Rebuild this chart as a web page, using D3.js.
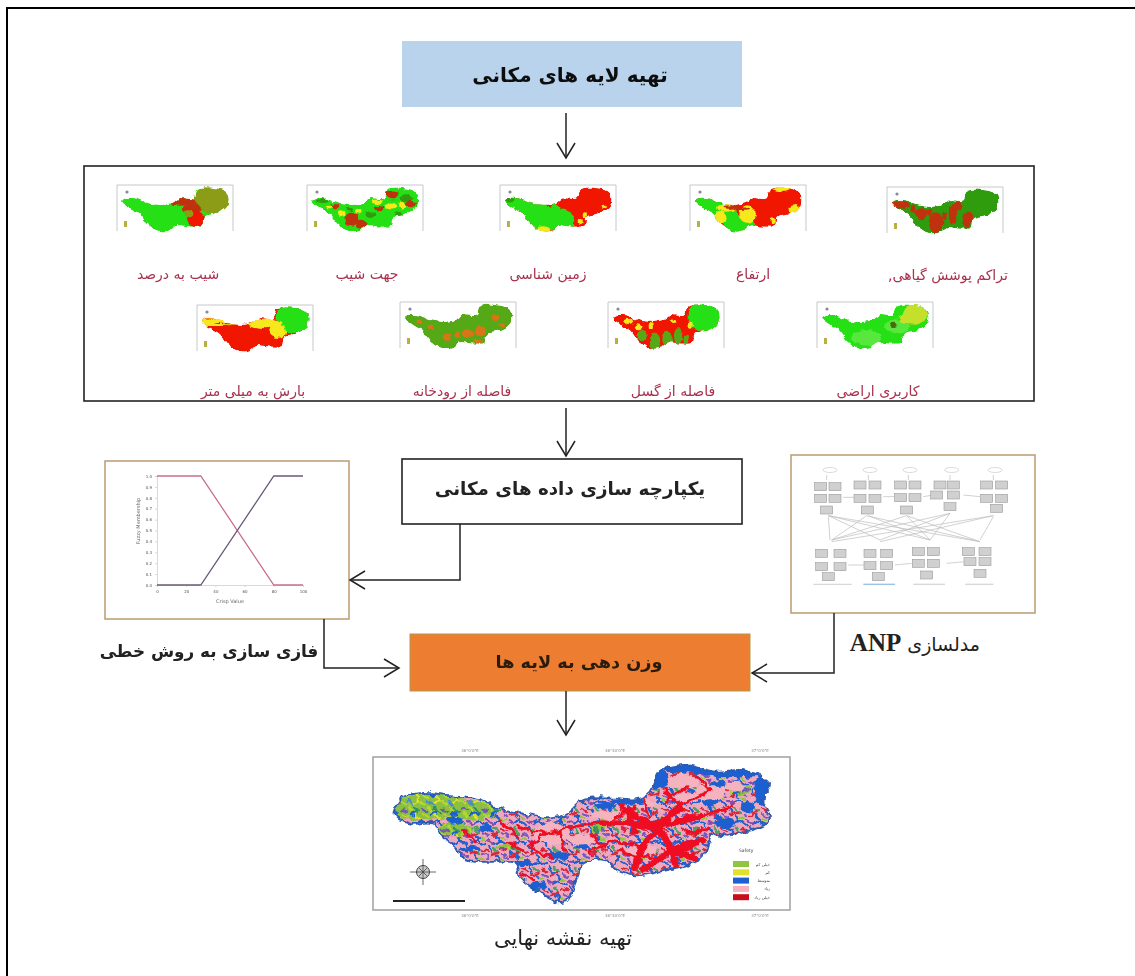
<!DOCTYPE html>
<html>
<head>
<meta charset="utf-8">
<script src="https://cdn.jsdelivr.net/npm/d3@7"></script>
<style>
  html, body { margin: 0; background: #fff; }
  svg { display: block; }
  text { font-family: "DejaVu Sans", sans-serif; }
</style>
</head>
<body>
<div id="chart"></div>
<script>
// Flow of the spatial analysis: layers -> fuzzy / ANP -> weighting -> final map

const titleTop = 'تهیه لایه های مکانی';
const titleMerge = 'یکپارچه سازی داده های مکانی';
const titleWeight = 'وزن دهی به لایه ها';
const titleFuzzy = 'فازی سازی به روش خطی';
const titleAnp = 'مدلسازی';
const titleFinal = 'تهیه نقشه نهایی';
const layerNames = ['شیب به درصد', 'جهت شیب', 'زمین شناسی', 'ارتفاع', 'تراکم پوشش گیاهی,',
  'بارش به میلی متر', 'فاصله از رودخانه', 'فاصله از گسل', 'کاربری اراضی'];

// basin outline of the final map, 0-100 in both directions
const basin = [[0,38],[1.3,25.6],[5.8,20.7],[14.7,22],[21.8,24.4],[28,31.7],[34.2,35.4],[41.3,39],[45.8,35.4],
  [50.2,25.6],[57.3,24.4],[64.4,25.6],[68,20.7],[70.7,4.9],[76.9,0],[85.8,4.9],[92.9,3.7],[99,11],[100,16],
  [98,25.6],[100,38],[98,45],[92.9,48.8],[88.4,52.4],[84.9,50],[82.2,67],[78.7,72],[72.4,76.8],[64.4,80.5],
  [59,76.8],[56.4,69.5],[50.2,72],[48.4,84],[45.8,98.8],[43,100],[37.8,91.5],[33.3,81.7],[32.4,72],[25.3,70.7],
  [19,69.5],[16.9,62],[12.9,52.4],[10.2,42.7],[4,42.7]];
// the small maps are drawn squatter
const smallBasin = [[0,31],[3,24],[13,24],[24,35],[36,39],[48,35],[55,24],[68,24],[71,4],[87,0],[100,12],[100,43],
  [90,59],[78,67],[76,87],[65,90],[52,87],[46,98],[35,100],[24,83],[16,59],[8,47]];

// colour classes of the small maps, blobs are u, v, ru, rv, class
const mapBase = ['lime', 'lime', 'red', 'red', 'forest', 'red', 'moss', 'red', 'lime'];
const mapBlobs = [
  [[86,26,18,32,'olive'],[56,32,13,9,'brick'],[66,48,9,14,'brick'],[70,72,8,20,'red'],[64,60,4,8,'olive']],
  [[38,72,7,15,'brick'],[47,84,5,10,'brick'],[28,60,3,8,'yellow'],[10,30,6,5,'forest'],[22,42,4,5,'brick'],
   [77,16,6,10,'brick'],[90,24,6,7,'forest'],[76,42,6,8,'yellow'],[86,40,3,10,'yellow'],[64,48,5,6,'brick'],
   [94,38,5,9,'brick'],[56,62,5,8,'forest'],[62,32,5,5,'yellow'],[44,54,3,5,'yellow'],[72,12,4,5,'brick'],
   [82,60,4,5,'forest'],[36,50,3,4,'forest'],[16,44,3,3,'yellow']],
  [[18,44,22,36,'lime'],[36,72,16,30,'lime'],[54,78,12,28,'lime'],[36,97,7,8,'yellow'],[4,28,5,6,'forest'],
   [48,50,4,14,'lime'],[76,62,2,8,'yellow'],[94,44,2,5,'yellow'],[72,78,2,6,'yellow']],
  [[10,36,14,20,'lime'],[26,58,14,22,'lime'],[42,82,15,22,'lime'],[30,46,9,9,'yellow'],[50,62,8,22,'yellow'],
   [24,68,6,15,'yellow'],[34,44,8,4,'brick'],[44,48,8,3,'brick'],[82,4,8,5,'yellow'],[94,50,5,12,'yellow'],[74,76,2,8,'yellow']],
  [[8,34,9,9,'brick'],[28,54,6,14,'brick'],[42,76,7,24,'brick'],[58,56,4,24,'brick'],[72,68,5,18,'brick'],
   [62,38,5,12,'brick'],[20,44,3,8,'brick'],[50,60,2,10,'brick'],[36,52,2,8,'brick']],
  [[87,24,17,34,'lime'],[12,33,22,9,'yellow'],[60,36,16,11,'yellow'],[72,54,8,16,'yellow'],[30,36,18,2,'brick']],
  [[60,66,6,10,'orange'],[72,60,5,13,'orange'],[40,76,4,10,'orange'],[24,52,3,6,'orange'],[86,28,4,7,'orange'],
   [70,84,4,5,'orange'],[50,70,2,9,'orange'],[14,40,2,5,'orange'],[92,46,3,4,'orange']],
  [[87,26,16,36,'lime'],[40,84,5,20,'moss'],[52,80,5,18,'moss'],[62,72,4,18,'moss'],[28,70,5,12,'moss'],[70,80,3,10,'moss'],
   [15,38,5,6,'yellow'],[24,52,4,7,'yellow'],[36,48,2,8,'yellow'],[58,38,3,4,'yellow'],[74,46,2,7,'yellow']],
  [[88,22,12,24,'pale'],[72,50,12,16,'mint'],[68,46,4,5,'darkGreen'],[78,32,4,9,'pale'],[42,76,14,18,'mint']]
];

// fuzzy membership chart
const crispTicks = [0, 20, 40, 60, 80, 100];
const membershipTicks = [0, .1, .2, .3, .4, .5, .6, .7, .8, .9, 1];
const falling = [[0,1],[30,1],[80,0],[100,0]];
const rising = [[0,0],[30,0],[80,1],[100,1]];

// ANP network in its own box units
const anpHeads = [[150,75],[270,75],[390,75],[515,75],[645,75]];
const anpNodes = [[122,125],[165,125],[122,160],[165,160],[140,195],[240,120],[285,120],[240,160],[285,160],[262,195],
  [362,120],[405,120],[362,158],[405,158],[380,195],[480,120],[520,120],[470,150],[520,150],[510,185],
  [620,120],[665,120],[620,160],[665,160],[650,190],[125,325],[180,325],[125,365],[180,365],[145,395],
  [270,325],[320,325],[270,362],[320,362],[295,395],[415,320],[460,320],[415,355],[460,355],[440,390],
  [565,320],[615,320],[570,350],[615,350],[600,385]];
const anpLinks = [[145,212,600,290],[265,212,450,285],[380,212,155,285],[510,205,300,285],[640,212,155,290],[640,212,300,290],
  [380,212,600,290],[260,212,600,290],[145,215,150,285],[640,215,600,285],[510,205,450,285],[190,157,225,157],[310,155,345,155],
  [430,155,460,150],[550,150,600,155],[205,360,255,360],[345,360,395,355],[500,355,555,350],[145,212,300,285],[145,212,450,285],
  [510,205,155,285],[380,212,450,285],[260,212,155,285],[140,90,140,105],[265,90,265,105],[385,90,385,105],[510,90,510,105],[640,90,640,105]];
const anpFooters = [[100,215],[250,345],[400,495],[555,640]];

// final susceptibility map
const riskClasses = ['خیلی کم', 'کم', 'متوسط', 'زیاد', 'خیلی زیاد'];
const riskColors = ['#8fc640', '#e3e02a', '#1c5fd0', '#f5b3bf', '#c8101c'];
const finalBlue = [[79,3,8,3],[70,11,3,7],[90,6,8,3],[98,18,2,10],[20,61,3,2],[35,72,3,2],[62,27,5,2],[28,30,3,1.5],
  [88,42,3,4],[24,46,2,3],[44,66,3,3],[56,30,3,2],[84,28,2,3],[16,40,2,3],[38,88,2,3],[94,30,2,4],[86,14,2,2],[50,60,2,2]];
const finalPink = [[76,12,5,5],[84,20,4,7],[58,36,6,3],[42,50,5,8],[66,28,4,3],[36,86,3,5],[50,54,4,4],[78,24,3,4],[66,62,4,4],[90,16,3,3]];
const finalWest = [[8,30,11,10],[20,33,8,7],[16,47,5,5],[92,18,3,4],[54,46,2,3],[30,60,3,2]];
const finalRed = [[70,45,62,35],[70,45,55,42],[70,45,76,30],[70,45,80,38],[70,45,66,60],[70,45,74,62],[74,62,75,76],[74,62,82,55],
  [74,62,66,76],[74,62,80,68],[66,60,64,75],[62,35,64,48],
  [66,60,58,55],[76,30,84,18],[62,35,60,28],[55,42,48,45],[48,45,40,50],[40,50,36,60],[40,50,33,45],[36,60,42,68],[34,80,37,84],
  [68,38,66,24],[80,38,90,30],[76,30,72,18],[58,55,52,64],[28,40,33,52],[18,48,22,56],[44,48,45,62],[84,18,80,8],[58,40,64,30],
  [60,62,66,70],[78,50,84,46],[70,68,62,66],[72,26,78,16],[52,50,56,60],[34,62,30,56]];
const finalLegendTitle = 'Safety';

const width = 1135, height = 976;
const svg = d3.select('#chart').append('svg').attr('width', width).attr('height', height);
const defs = svg.append('defs');

const classColors = { lime: '#27e012', red: '#f01204', brick: '#c0320c', olive: '#8c9c12', forest: '#2f9c10',
  moss: '#55a812', yellow: '#f6e81e', orange: '#d87414', pale: '#c4e02c', mint: '#58e83c', darkGreen: '#4c6a10' };

function blurFilter(id, dev) {
  defs.append('filter').attr('id', id).attr('x', '-5%').attr('y', '-5%').attr('width', '110%').attr('height', '110%')
    .append('feGaussianBlur').attr('stdDeviation', dev);
}
blurFilter('soft', 0.55);
blurFilter('softer', 0.3);

// ragged edges for the maps
function roughFilter(id, freq, scale, dev) {
  const f = defs.append('filter').attr('id', id).attr('x', '-5%').attr('y', '-5%').attr('width', '110%').attr('height', '110%');
  f.append('feTurbulence').attr('type', 'fractalNoise').attr('baseFrequency', freq).attr('numOctaves', 2).attr('seed', 4).attr('result', 'n');
  f.append('feDisplacementMap').attr('in', 'SourceGraphic').attr('in2', 'n').attr('scale', scale)
    .attr('xChannelSelector', 'R').attr('yChannelSelector', 'G').attr('result', 'd');
  f.append('feGaussianBlur').attr('in', 'd').attr('stdDeviation', dev);
}
roughFilter('roughSmall', 0.16, 5, 0.5);
roughFilter('roughFinal', 0.13, 8, 0.45);

const head = defs.append('marker').attr('id', 'head').attr('markerUnits', 'userSpaceOnUse')
  .attr('viewBox', '-16 -10 18 20').attr('refX', 0).attr('refY', 0)
  .attr('markerWidth', 18).attr('markerHeight', 20).attr('orient', 'auto');
head.append('path').attr('d', 'M-15,-9L0,0L-15,9').attr('fill', 'none').attr('stroke', '#222').attr('stroke-width', 1.5);

// page rules, only top and left are in the picture
svg.append('path').attr('d', `M7,${height}V8H${width}`).attr('fill', 'none').attr('stroke', '#000').attr('stroke-width', 2);

// boxes
function box(x0, y0, x1, y1, fill, stroke, sw) {
  svg.append('rect').attr('x', x0).attr('y', y0).attr('width', x1 - x0).attr('height', y1 - y0)
    .attr('fill', fill).attr('stroke', stroke).attr('stroke-width', sw);
}
box(402, 41, 742, 107, '#b9d3ec', 'none', 0);
box(84, 166, 1034, 401, '#fff', '#222', 1.6);
box(402, 459, 742, 524, '#fff', '#222', 1.6);
box(105, 461, 349, 619, '#fff', '#bfa27a', 1.6);
box(791, 455, 1035, 613, '#fff', '#bfa27a', 1.6);
box(410, 634, 750, 691, '#ed7d31', '#b49a4a', 1);

// connectors
const line = d3.line();
[
  [[566,113],[566,158]],
  [[566,408],[566,456]],
  [[566,691],[566,735]],
  [[460,524],[460,580],[350,580]],
  [[324,619],[324,668],[399,668]],
  [[834,613],[834,673],[752,673]]
].forEach(pts => {
  svg.append('path').attr('d', line(pts)).attr('fill', 'none').attr('stroke', '#222')
    .attr('stroke-width', 1.5).attr('marker-end', 'url(#head)');
});

// titles
function label(txt, x, y, size, weight, color) {
  return svg.append('text').attr('x', x).attr('y', y).attr('text-anchor', 'middle').attr('dominant-baseline', 'middle')
    .attr('font-size', size).attr('font-weight', weight).attr('fill', color).attr('direction', 'rtl')
    .attr('filter', 'url(#softer)').text(txt);
}
label(titleTop, 570, 76, 20, 'bold', '#111');
label(titleMerge, 570, 490, 18.3, 'bold', '#222');
label(titleWeight, 579, 663, 17.7, 'bold', '#2a1c10');
label(titleFuzzy, 209, 652, 16.8, 'bold', '#222');
label(titleFinal, 563, 939, 21, 'normal', '#222');

const anpLabel = svg.append('text').attr('x', 980).attr('y', 645).attr('text-anchor', 'start')
  .attr('direction', 'rtl').attr('dominant-baseline', 'middle').attr('fill', '#222');
anpLabel.append('tspan').attr('font-size', 19).text(titleAnp + ' ');
anpLabel.append('tspan').attr('font-size', 25).attr('font-weight', 'bold')
  .attr('style', 'font-family:"Liberation Serif",serif').text('ANP');

// small layer maps
const mapSlots = [[117,185],[307,185],[500,185],[690,185],[887,187],[197,305],[400,302],[608,302],[817,302]];
const labelSlots = [[178,275],[367,275],[548,275],[753,275],[948,276],[253,392],[462,392],[673,392],[878,392]];

layerNames.forEach((name, i) => {
  const [mx, my] = mapSlots[i];
  const u = d3.scaleLinear().domain([0, 100]).range([mx + 5, mx + 110]);
  const v = d3.scaleLinear().domain([0, 100]).range([my + 3, my + 46]);
  const frame = svg.append('g').attr('filter', 'url(#soft)');
  frame.append('path').attr('d', `M${mx},${my + 46}V${my}H${mx + 116}V${my + 46}`).attr('fill', 'none').attr('stroke', '#c4c8cc').attr('stroke-width', 1);
  frame.append('circle').attr('cx', mx + 10).attr('cy', my + 7).attr('r', 1.6).attr('fill', '#889');
  frame.append('rect').attr('x', mx + 7).attr('y', my + 36).attr('width', 3).attr('height', 6).attr('fill', '#b8b040');

  const outline = d3.line().x(d => u(d[0])).y(d => v(d[1])).curve(d3.curveCatmullRomClosed)(smallBasin);
  defs.append('clipPath').attr('id', 'clip' + i).append('path').attr('d', outline);
  const inner = svg.append('g').attr('filter', 'url(#roughSmall)').append('g').attr('clip-path', `url(#clip${i})`);
  inner.append('path').attr('d', outline).attr('fill', classColors[mapBase[i]]);
  inner.selectAll('ellipse').data(mapBlobs[i]).join('ellipse')
    .attr('cx', d => u(d[0])).attr('cy', d => v(d[1]))
    .attr('rx', d => u(d[2]) - u(0)).attr('ry', d => v(d[3]) - v(0))
    .attr('fill', d => classColors[d[4]]);
  label(name, labelSlots[i][0], labelSlots[i][1], 14, 'normal', '#a8304c');
});

// fuzzy chart
const fx = d3.scaleLinear().domain([0, 100]).range([157, 303]);
const fy = d3.scaleLinear().domain([0, 1]).range([585, 476]);
const fuzzy = svg.append('g').attr('filter', 'url(#softer)');
const fxAxis = fuzzy.append('g').attr('transform', 'translate(0,585)').call(d3.axisBottom(fx).tickValues(crispTicks).tickSize(2));
const fyAxis = fuzzy.append('g').attr('transform', 'translate(157,0)').call(d3.axisLeft(fy).tickValues(membershipTicks).tickSize(2));
[fxAxis, fyAxis].forEach(a => {
  a.selectAll('text').attr('font-size', 4).attr('fill', '#555');
  a.selectAll('path,line').attr('stroke', '#e8c4cc').attr('stroke-width', .8);
});
const fl = d3.line().x(d => fx(d[0])).y(d => fy(d[1]));
fuzzy.append('path').attr('d', fl(falling)).attr('fill', 'none').attr('stroke', '#c87088').attr('stroke-width', 1.3);
fuzzy.append('path').attr('d', fl(rising)).attr('fill', 'none').attr('stroke', '#6a5a78').attr('stroke-width', 1.3);
fuzzy.append('text').attr('x', 230).attr('y', 603).attr('text-anchor', 'middle').attr('font-size', 5).attr('fill', '#666').text('Crisp Value');
fuzzy.append('text').attr('transform', 'translate(140,521) rotate(-90)').attr('text-anchor', 'middle').attr('font-size', 5).attr('fill', '#666').text('Fuzzy Membership');

// ANP network
const ax = d3.scaleLinear().domain([0, 795]).range([780, 1045]);
const ay = d3.scaleLinear().domain([0, 690]).range([445, 675]);
const anp = svg.append('g').attr('filter', 'url(#softer)');
anp.selectAll('line.link').data(anpLinks).join('line').attr('class', 'link')
  .attr('x1', d => ax(d[0])).attr('y1', d => ay(d[1])).attr('x2', d => ax(d[2])).attr('y2', d => ay(d[3]))
  .attr('stroke', '#bdbdbd').attr('stroke-width', .7);
anp.selectAll('ellipse').data(anpHeads).join('ellipse')
  .attr('cx', d => ax(d[0])).attr('cy', d => ay(d[1])).attr('rx', 7).attr('ry', 2.5)
  .attr('fill', '#fff').attr('stroke', '#ccc').attr('stroke-width', .7);
anp.selectAll('rect.node').data(anpNodes).join('rect').attr('class', 'node')
  .attr('x', d => ax(d[0]) - 6).attr('y', d => ay(d[1]) - 4).attr('width', 12).attr('height', 8)
  .attr('fill', '#d0d0d0').attr('stroke', '#9a9a9a').attr('stroke-width', .6);
anp.selectAll('line.footer').data(anpFooters).join('line').attr('class', 'footer')
  .attr('x1', d => ax(d[0])).attr('x2', d => ax(d[1])).attr('y1', ay(418)).attr('y2', ay(418))
  .attr('stroke', (d, i) => i === 1 ? '#9cc4e4' : '#d8d8d8').attr('stroke-width', 1.4);

// final map
const mu = d3.scaleLinear().domain([0, 100]).range([395, 770]);
const mv = d3.scaleLinear().domain([0, 100]).range([765, 902]);
const mapG = svg.append('g').attr('filter', 'url(#softer)');
mapG.append('rect').attr('x', 373).attr('y', 757).attr('width', 417).attr('height', 153)
  .attr('fill', '#fff').attr('stroke', '#a0a0a0').attr('stroke-width', 1.5);

// tiled streaks for the mixed zones, short strokes are the texture not data
const tileMix = [[1,2,6,5,'#1c5fd0'],[8,1,13,4,'#8a4cb0'],[14,3,19,1,'#1c5fd0'],[2,9,7,11,'#d8283c'],[9,7,12,12,'#1c5fd0'],
  [14,8,19,12,'#4aa060'],[3,14,8,17,'#7a58c0'],[11,15,17,13,'#d8283c'],[16,16,20,19,'#1c5fd0'],[1,18,5,20,'#8fc640']];
const tileWest = [[1,2,6,4,'#b8d830'],[8,1,13,5,'#4a8ccc'],[14,3,19,1,'#e3e02a'],[2,9,7,11,'#6e58b8'],[9,7,12,12,'#b8d830'],
  [14,8,19,12,'#2f8c70'],[3,14,8,17,'#b8d830'],[11,15,17,13,'#1c5fd0'],[16,16,20,19,'#e3e02a']];
[['mixTile', tileMix, '#f0a8bc'], ['westTile', tileWest, '#8cc040']].forEach(([id, strokes, bg]) => {
  const p = defs.append('pattern').attr('id', id).attr('patternUnits', 'userSpaceOnUse').attr('width', 20).attr('height', 20);
  p.append('rect').attr('width', 20).attr('height', 20).attr('fill', bg);
  p.selectAll('line').data(strokes).join('line')
    .attr('x1', d => d[0]).attr('y1', d => d[1]).attr('x2', d => d[2]).attr('y2', d => d[3])
    .attr('stroke', d => d[4]).attr('stroke-width', 2.4).attr('stroke-linecap', 'round');
});

const finalOutline = d3.line().x(d => mu(d[0])).y(d => mv(d[1])).curve(d3.curveCatmullRomClosed)(basin);
defs.append('clipPath').attr('id', 'clipFinal').append('path').attr('d', finalOutline);
const finG = svg.append('g').attr('filter', 'url(#roughFinal)');
const fin = finG.append('g').attr('clip-path', 'url(#clipFinal)');
fin.append('path').attr('d', finalOutline).attr('fill', 'url(#mixTile)');
const blobs = (data, fill) => fin.append('g').selectAll('ellipse').data(data).join('ellipse')
  .attr('cx', d => mu(d[0])).attr('cy', d => mv(d[1]))
  .attr('rx', d => mu(d[2]) - mu(0)).attr('ry', d => mv(d[3]) - mv(0)).attr('fill', fill);
blobs(finalWest, 'url(#westTile)');
blobs(finalPink, '#f5b3bf');
blobs(finalBlue, '#1c5fd0');
fin.append('g').selectAll('line').data(finalRed).join('line')
  .attr('x1', d => mu(d[0])).attr('y1', d => mv(d[1])).attr('x2', d => mu(d[2])).attr('y2', d => mv(d[3]))
  .attr('stroke', '#ee1020').attr('stroke-width', (d, i) => i < 12 ? 6.5 : 3).attr('stroke-linecap', 'round');
finG.append('path').attr('d', finalOutline).attr('fill', 'none').attr('stroke', '#2a5ab4').attr('stroke-width', 1.8);

// map furniture
const furn = svg.append('g').attr('filter', 'url(#softer)');
const compass = furn.append('g').attr('transform', 'translate(423,872)');
compass.append('circle').attr('r', 6.5).attr('fill', '#ccc').attr('stroke', '#444').attr('stroke-width', 1);
compass.append('path').attr('d', 'M-13,0H13M0,-13V13M-4,-4L4,4M-4,4L4,-4').attr('stroke', '#444').attr('stroke-width', .8);
furn.append('rect').attr('x', 393).attr('y', 900).attr('width', 72).attr('height', 2).attr('fill', '#222');
furn.append('text').attr('x', 739).attr('y', 852).attr('font-size', 4.5).attr('fill', '#444').text(finalLegendTitle);
riskClasses.forEach((c, i) => {
  const y = 861 + i * 8.3;
  furn.append('rect').attr('x', 733).attr('y', y).attr('width', 16).attr('height', 6).attr('fill', riskColors[i]);
  furn.append('text').attr('x', 770).attr('y', y + 4.5).attr('text-anchor', 'end').attr('font-size', 4).attr('fill', '#444').text(c);
});
['36°0\'0"E', '36°30\'0"E', '37°0\'0"E'].forEach((t, i) => {
  [752, 917].forEach(y => furn.append('text').attr('x', 470 + i * 145).attr('y', y).attr('text-anchor', 'middle')
    .attr('font-size', 4).attr('fill', '#888').text(t));
});
</script>
</body>
</html>
